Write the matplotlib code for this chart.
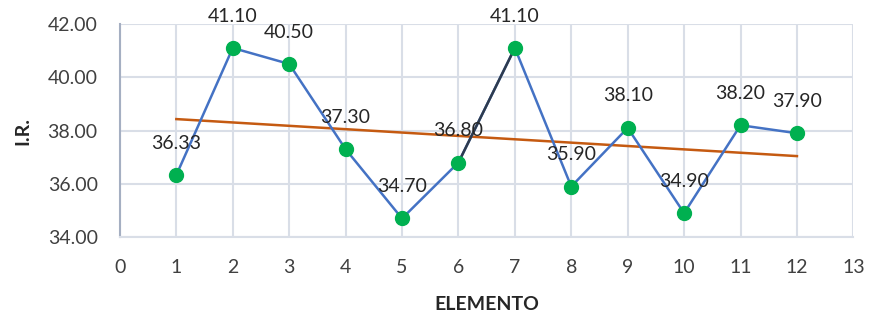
import matplotlib
matplotlib.use("Agg")
import matplotlib.pyplot as plt
import numpy as np

plt.rcParams['font.family'] = ['Lato', 'DejaVu Sans']

# datos
elemento = np.array([1, 2, 3, 4, 5, 6, 7, 8, 9, 10, 11, 12])
ir = np.array([36.33, 41.10, 40.50, 37.30, 34.70, 36.80, 41.10, 35.90, 38.10, 34.90, 38.20, 37.90])
etiquetas = ['36.33', '41.10', '40.50', '37.30', '34.70', '36.80', '41.10', '35.90', '38.10', '34.90', '38.20', '37.90']

fig = plt.figure(figsize=(8.69, 3.2), dpi=100)
ax = fig.add_axes([0.138, 0.259, 0.844, 0.666])

# linea principal
ax.plot(elemento, ir, '-', color='#4472C4', lw=1.8, zorder=3)
# tramo 6-7 resaltado
ax.plot(elemento[5:7], ir[5:7], '-', color='#2E3B4E', lw=1.8, zorder=3)
ax.plot(elemento, ir, 'o', color='#00B050', ms=10, zorder=4)

# linea de tendencia
m, b = np.polyfit(elemento, ir, 1)
ax.plot(elemento[[0, -1]], m * elemento[[0, -1]] + b, '-', color='#C55A11', lw=1.8, zorder=2)

for x, y, t in zip(elemento, ir, etiquetas):
    ax.annotate(t, (x, y), xytext=(0, 23), textcoords='offset points',
                ha='center', va='center', fontsize=14, color='#262626', zorder=5)

ax.set_xlim(0, 13)
ax.set_ylim(34, 42)
ax.set_xticks(np.arange(0, 14, 1))
ax.set_yticks(np.arange(34, 43, 2))
ax.set_yticklabels(['%.2f' % v for v in np.arange(34, 43, 2)])
ax.grid(True, color='#D9DEE7', lw=1.5)
ax.set_axisbelow(True)
ax.tick_params(length=0, labelsize=14, labelcolor='#404040')
ax.tick_params(axis='y', pad=16)
ax.tick_params(axis='x', pad=16)

for s in ['top', 'right']:
    ax.spines[s].set_visible(False)
ax.spines['left'].set_color('#A5AFC2')
ax.spines['left'].set_linewidth(1.5)
ax.spines['bottom'].set_color('#D9DEE7')
ax.spines['bottom'].set_linewidth(1.5)

ax.set_xlabel('ELEMENTO', fontsize=14, fontweight='bold', color='#262626', labelpad=14)
ax.set_ylabel('I.R.', fontsize=14, fontweight='bold', color='#262626', labelpad=12)

fig.savefig('out.png', dpi=100)
